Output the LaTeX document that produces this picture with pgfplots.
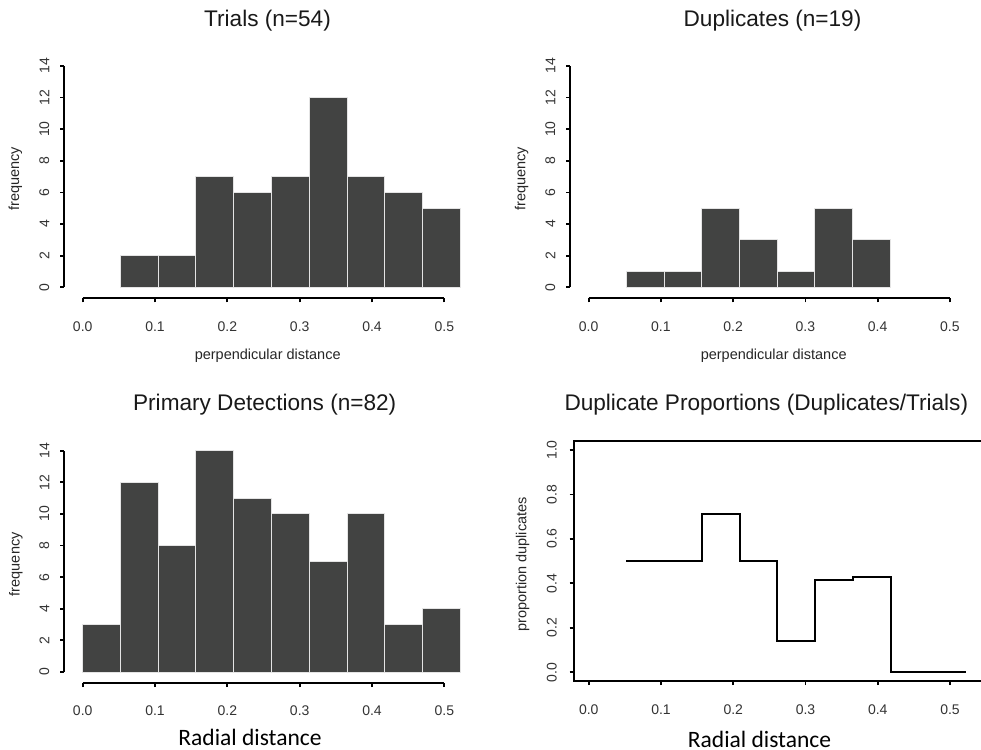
\documentclass[border=0pt]{standalone}
\usepackage{pgfplots}
\pgfplotsset{compat=1.18}
\usepackage{fontspec}
\setmainfont{Liberation Sans}
\newfontfamily\calibri{Carlito}
\definecolor{barfill}{RGB}{66,67,66}
\definecolor{barline}{RGB}{228,228,228}
\pgfplotsset{
  rbase/.style={
    scale only axis, anchor=south west, clip=false,
    xtick={0,0.1,0.2,0.3,0.4,0.5},
    xticklabels={0.0,0.1,0.2,0.3,0.4,0.5},
    tick align=outside, major tick length=2pt,
    tick style={black, line width=0.9pt},
    xtick pos=bottom, ytick pos=left,
    ticklabel style={font=\fontsize{7}{8}\selectfont, text=black!80},
    /pgf/number format/assume math mode=true,
    xticklabel shift=6pt,
    yticklabel style={rotate=90, anchor=south},
  },
  hist/.style={rbase,
    xmin=-0.0253, xmax=0.5408, ymin=-0.696, ymax=14.56,
    ytick={0,2,4,6,8,10,12,14},
    axis line style={draw=none},
    yticklabel shift=2pt,
    height=120.6pt,
  },
}
\begin{document}
\begin{tikzpicture}[x=0.5pt,y=-0.5pt]
\path[use as bounding box] (0,0) rectangle (981,750);

% Panel 1
\begin{axis}[hist, at={(32.2pt,-149.15pt)}, width=204.74pt]
\addplot[ybar interval, fill=barfill, draw=barline, line width=0.5pt] coordinates {
(0.0522,2) (0.1044,2) (0.1566,7) (0.2088,6) (0.261,7) (0.3132,12) (0.3654,7) (0.4176,6) (0.4698,5) (0.522,5)};
\draw[line width=1pt] (axis cs:-0.0253,0) -- (axis cs:-0.0253,14);
\draw[line width=1pt] (axis cs:0,-0.696) -- (axis cs:0.5,-0.696);
\end{axis}

% Panel 2
\begin{axis}[hist, at={(285.2pt,-149.15pt)}, width=204.5pt]
\addplot[ybar interval, fill=barfill, draw=barline, line width=0.5pt] coordinates {
(0.0522,1) (0.1044,1) (0.1566,5) (0.2088,3) (0.261,1) (0.3132,5) (0.3654,3) (0.4176,3)};
\draw[line width=1pt] (axis cs:-0.0253,0) -- (axis cs:-0.0253,14);
\draw[line width=1pt] (axis cs:0,-0.696) -- (axis cs:0.5,-0.696);
\end{axis}

% Panel 3
\begin{axis}[hist, at={(32.2pt,-341.5pt)}, width=204.74pt]
\addplot[ybar interval, fill=barfill, draw=barline, line width=0.5pt] coordinates {
(0,3) (0.0522,12) (0.1044,8) (0.1566,14) (0.2088,11) (0.261,10) (0.3132,7) (0.3654,10) (0.4176,3) (0.4698,4) (0.522,4)};
\draw[line width=1pt] (axis cs:-0.0253,0) -- (axis cs:-0.0253,14);
\draw[line width=1pt] (axis cs:0,-0.696) -- (axis cs:0.5,-0.696);
\end{axis}

% Panel 4
\begin{axis}[rbase, at={(286.85pt,-340.6pt)}, width=204.65pt, height=120.05pt,
  xmin=-0.0208, xmax=0.5456, ymin=-0.04, ymax=1.04,
  ytick={0,0.2,0.4,0.6,0.8,1.0},
  yticklabels={0.0,0.2,0.4,0.6,0.8,1.0},
  yticklabel shift=3pt,
  axis line style={line width=1pt}]
\addplot[const plot, line width=1pt, black] coordinates {
(0.0522,0.5) (0.1044,0.5) (0.1566,0.7143) (0.2088,0.5) (0.261,0.1429) (0.3132,0.4167) (0.3654,0.4286) (0.4176,0) (0.4698,0) (0.522,0)};
\end{axis}

% Titles
\begin{scope}[every node/.style={text=black!90, font=\fontsize{11.3}{13}\selectfont, anchor=base, inner sep=0pt}]
\node at (267.5,26) {Trials (n=54)};
\node at (772.5,26) {Duplicates (n=19)};
\node at (264.7,410) {Primary Detections (n=82)};
\node at (766.3,410.7) {Duplicate Proportions (Duplicates/Trials)};
\end{scope}
% axis labels
\begin{scope}[every node/.style={text=black!85, font=\fontsize{7.25}{8}\selectfont, inner sep=0pt}]
\node[anchor=base] at (267.7,359) {perpendicular distance};
\node[anchor=base] at (773.7,359) {perpendicular distance};
\node[rotate=90] at (15.5,179) {frequency};
\node[rotate=90] at (521.7,179) {frequency};
\node[rotate=90] at (16,564.2) {frequency};
\node[rotate=90] at (522.5,564.5) {proportion duplicates};
\end{scope}
\begin{scope}[every node/.style={text=black, font=\calibri\fontsize{11.75}{13}\selectfont, anchor=base, inner sep=0pt}]
\node at (250,745) {Radial distance};
\node at (759.5,747) {Radial distance};
\end{scope}
\end{tikzpicture}
\end{document}
